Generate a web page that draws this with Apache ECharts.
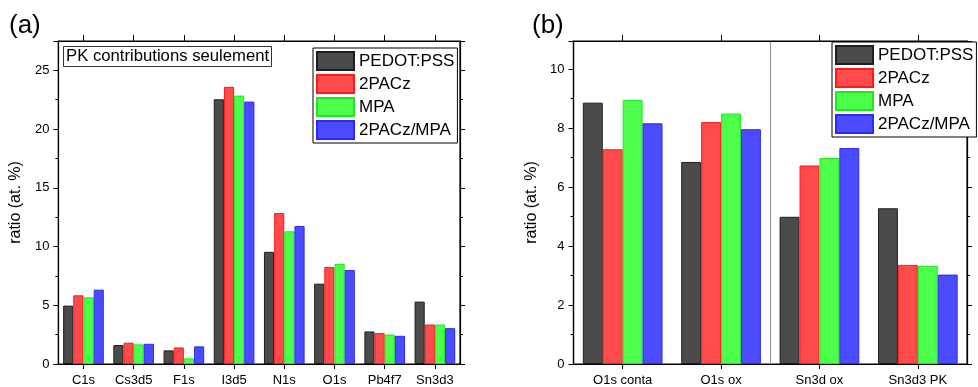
<!DOCTYPE html>
<html><head><meta charset="utf-8">
<script src="https://cdn.jsdelivr.net/npm/echarts@6/dist/echarts.min.js"></script>
<style>html,body{margin:0;padding:0;background:#fff}#wrap{position:relative;width:978px;height:387px}#ca{position:absolute;left:0;top:0;width:490px;height:387px}#cb{position:absolute;left:490px;top:0;width:488px;height:387px}</style>
</head><body><div id="wrap"><div id="ca"></div><div id="cb"></div></div>
<script>
const seriesNames = ['PEDOT:PSS', '2PACz', 'MPA', '2PACz/MPA'];
const catsA = ['C1s', 'Cs3d5', 'F1s', 'I3d5', 'N1s', 'O1s', 'Pb4f7', 'Sn3d3'];
const pedotA = [4.97, 1.61, 1.16, 22.54, 9.55, 6.84, 2.77, 5.31];
const pacA   = [5.85, 1.81, 1.41, 23.60, 12.85, 8.25, 2.63, 3.36];
const mpaA   = [5.68, 1.67, 0.48, 22.85, 11.30, 8.53, 2.51, 3.36];
const mixA   = [6.33, 1.72, 1.50, 22.34, 11.75, 8.00, 2.40, 3.05];
const catsB = ['O1s conta', 'O1s ox', 'Sn3d ox', 'Sn3d3 PK'];
const pedotB = [8.86, 6.85, 4.99, 5.28];
const pacB   = [7.28, 8.20, 6.73, 3.36];
const mpaB   = [8.95, 8.49, 6.98, 3.33];
const mixB   = [8.16, 7.96, 7.32, 3.03];
const yTicksA = {min: 0, max: 27.5, interval: 5};
const yTicksB = {min: 0, max: 10.95, interval: 2};

const FONT = 'Liberation Sans, Arial, sans-serif';
const fills = ['#4b4b4b', '#ff4b4b', '#4bff4b', '#4b4bff'];
const edges = ['#1e1e1e', '#ff1a1a', '#22e622', '#2a2aff'];

function line() { return {show: true, onZero: false, lineStyle: {color: '#000', width: 1.2}}; }

function buildOption(cfg) {
  const yCommon = () => ({type: 'value', gridIndex: 0, min: cfg.y.min, max: cfg.y.max, interval: cfg.y.interval,
    axisLine: line(),
    axisTick: {show: true, length: 5, lineStyle: {color: '#000'}},
    minorTick: {show: true, splitNumber: 2, length: 3, lineStyle: {color: '#000'}},
    splitLine: {show: false}});
  const series = cfg.data.map((d, i) => ({
    name: seriesNames[i], type: 'bar', xAxisIndex: 0, yAxisIndex: 0, data: d,
    barGap: '0%', barCategoryGap: '19%',
    itemStyle: {color: fills[i], borderColor: edges[i], borderWidth: 1},
    emphasis: {disabled: true}
  }));
  // invisible helper series so the frame axes (top / right) belong to a used coordinate system
  series.push({type: 'line', xAxisIndex: 1, yAxisIndex: 1, data: cfg.data[0], silent: true,
    symbol: 'none', showSymbol: false, lineStyle: {opacity: 0, width: 0}, emphasis: {disabled: true}});
  const titles = [{text: cfg.tag, left: cfg.tagLeft, top: 13, padding: 0,
    textStyle: {fontSize: 26, fontWeight: 'normal', color: '#000', fontFamily: FONT}}];
  if (cfg.note) titles.push({text: cfg.note, left: 63, top: 46, padding: [2, 3, 2, 3],
    borderColor: '#333', borderWidth: 1, backgroundColor: '#fff',
    textStyle: {fontSize: 16.7, fontWeight: 'normal', color: '#000', fontFamily: FONT}});
  return {
    animation: false,
    backgroundColor: '#fff',
    title: titles,
    legend: {orient: 'vertical', left: cfg.legendLeft, top: cfg.legendTop, data: seriesNames, icon: 'rect',
      itemWidth: 37, itemHeight: 18, itemGap: 3, padding: [3, 3, 3, 3],
      borderColor: '#000', borderWidth: 1, backgroundColor: '#fff',
      textStyle: {color: '#000', fontSize: 17, fontFamily: FONT}},
    grid: {left: cfg.gridLeft, right: cfg.gridRight, top: 41, bottom: 22,
      show: true, borderColor: '#000', borderWidth: 1.2, backgroundColor: 'transparent'},
    xAxis: [
      {type: 'category', gridIndex: 0, data: cfg.cats, position: 'bottom',
       axisLine: line(),
       axisTick: {show: true, alignWithLabel: true, length: 5, lineStyle: {color: '#000'}},
       axisLabel: {color: '#000', fontSize: 13, fontFamily: FONT, margin: 10, interval: 0},
       splitLine: {show: false}},
      {type: 'category', gridIndex: 0, data: cfg.cats, position: 'top',
       axisLine: line(),
       axisTick: {show: true, alignWithLabel: true, length: 6, lineStyle: {color: '#000'}},
       axisLabel: {show: true, formatter: () => ''},
       splitLine: cfg.divider ? {show: true, interval: (i) => i === 0 || i === 2, lineStyle: {color: '#999', width: 1.2}} : {show: false}}
    ],
    yAxis: [
      Object.assign(yCommon(), {position: 'left',
        axisLabel: {color: '#000', fontSize: 13, fontFamily: FONT, margin: 9, showMaxLabel: false},
        name: 'ratio (at. %)', nameLocation: 'middle', nameGap: 29,
        nameTextStyle: {color: '#000', fontSize: 16, fontFamily: FONT}}),
      Object.assign(yCommon(), {position: 'right', axisLabel: {show: true, formatter: () => ''}})
    ],
    series: series
  };
}

const chartA = echarts.init(document.getElementById('ca'), null, {renderer: 'canvas'});
chartA.setOption(buildOption({tag: '(a)', tagLeft: 9, note: 'PK contributions seulement',
  legendLeft: 313, legendTop: 48, gridLeft: 55, gridRight: 30, cats: catsA, y: yTicksA,
  data: [pedotA, pacA, mpaA, mixA], divider: false}));
const chartB = echarts.init(document.getElementById('cb'), null, {renderer: 'canvas'});
chartB.setOption(buildOption({tag: '(b)', tagLeft: 42, note: null,
  legendLeft: 342, legendTop: 42, gridLeft: 83.5, gridRight: 1.5, cats: catsB, y: yTicksB,
  data: [pedotB, pacB, mpaB, mixB], divider: true}));
</script></body></html>
